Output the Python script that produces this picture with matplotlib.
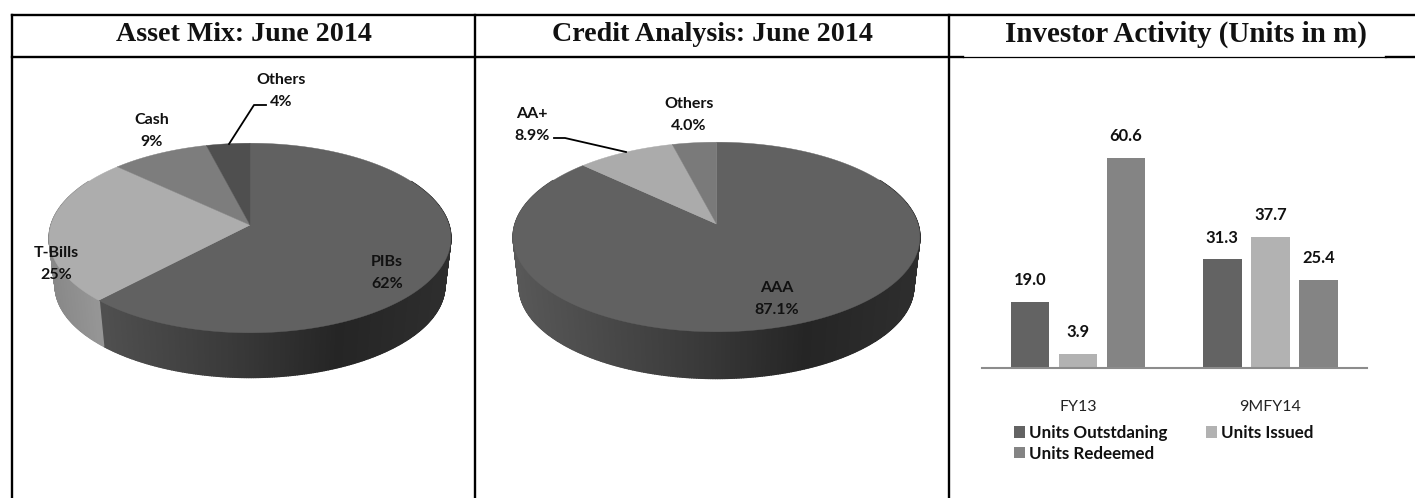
import numpy as np
import matplotlib
matplotlib.use("Agg")
import matplotlib.pyplot as plt
from matplotlib.collections import PolyCollection

W, H = 1415, 498

titles = ["Asset Mix: June 2014", "Credit Analysis: June 2014", "Investor Activity (Units in m)"]

asset_names = ["PIBs", "T-Bills", "Cash", "Others"]
asset_values = [62, 25, 9, 4]
asset_labels = ["62%", "25%", "9%", "4%"]

credit_names = ["AAA", "AA+", "Others"]
credit_values = [87.1, 8.9, 4.0]
credit_labels = ["87.1%", "8.9%", "4.0%"]

periods = ["FY13", "9MFY14"]
units_outstanding = [19.0, 31.3]
units_issued = [3.9, 37.7]
units_redeemed = [60.6, 25.4]

# label centres for the pies, in pixels
asset_pos = [(387, 273), (56, 264), (152, 131), (281, 91)]
credit_pos = [(777, 299), (532, 125), (689, 115)]

plt.rcParams['font.family'] = ['Lato', 'DejaVu Sans']


def px(size):
    return size * 72 / 100


def project(theta, cx, cy, a, b, k):
    # tilted disc seen in perspective, theta runs clockwise from the top
    u, v = np.sin(theta), np.cos(theta)
    w = 1 + k * v
    return cx + a * u / w, cy - b * v / w


def side_shade(x, left, right, dark):
    t = (x - left) / (right - left)
    if dark:
        g = np.interp(t, [0, 0.45, 0.72, 1], [0x58, 0x3a, 0x25, 0x2e])
    else:
        g = np.interp(t, [0, 0.25], [0x88, 0xa5])
    return (g / 255, g / 255, g / 255)


def pie3d(ax, values, colors, side_dark, cx, cy, rx, depth):
    k = 0.137
    a = rx * 0.99
    b = 93.0
    edges = np.cumsum([0] + list(values)) / sum(values) * 2 * np.pi

    # rim first, in thin strips, the top face goes over it
    polys, shades = [], []
    ang = np.linspace(np.radians(60), np.radians(300), 400)
    for t0, t1 in zip(ang[:-1], ang[1:]):
        x0, y0 = project(t0, cx, cy, a, b, k)
        x1, y1 = project(t1, cx, cy, a, b, k)
        x2, y2 = project(t1, cx, cy + depth, a * 0.97, b * 0.97, k)
        x3, y3 = project(t0, cx, cy + depth, a * 0.97, b * 0.97, k)
        polys.append([(x0, y0), (x1, y1), (x2, y2), (x3, y3)])
        i = np.searchsorted(edges, (t0 + t1) / 2) - 1
        shades.append(side_shade((x0 + x1) / 2, cx - rx, cx + rx, side_dark[i]))
    ax.add_collection(PolyCollection(polys, facecolors=shades, edgecolors=shades, linewidths=1.0))

    for i, c in enumerate(colors):
        t = np.linspace(edges[i], edges[i + 1], 200)
        x, y = project(t, cx, cy, a, b, k)
        ax.fill(np.r_[cx, x], np.r_[cy, y], color=c, lw=0.3)


fig = plt.figure(figsize=(W / 100, H / 100), dpi=100, facecolor="white")
bg = fig.add_axes([0, 0, 1, 1])
bg.set_xlim(0, W)
bg.set_ylim(H, 0)
bg.axis("off")

pie3d(bg, asset_values, ["#616161", "#adadad", "#7d7d7d", "#4f4f4f"],
      [True, False, False, False], 250, 225, 201, 48)
pie3d(bg, credit_values, ["#616161", "#ababab", "#7a7a7a"],
      [True, False, False], 716.5, 224, 203.5, 50)

for names, labels, pos in [(asset_names, asset_labels, asset_pos), (credit_names, credit_labels, credit_pos)]:
    for n, l, (x, y) in zip(names, labels, pos):
        bg.text(x, y, n + "\n" + l, ha="center", va="center", fontsize=px(16),
                fontweight="bold", color="#111111", linespacing=1.68)

# leader lines
bg.plot([229, 254, 266], [144, 105, 105], color="black", lw=1.3)
bg.plot([626, 565, 554], [152, 138, 138], color="black", lw=1.3)

# table rules
bg.plot([12, W], [15, 15], color="black", lw=1.7)
bg.plot([12, 963], [57, 57], color="black", lw=1.7)
bg.plot([963, 1386], [57, 57], color="black", lw=0.9)
bg.plot([1386, W], [57, 57], color="black", lw=1.7)
for x in [12, 475, 949]:
    bg.plot([x, x], [15, H], color="black", lw=1.7)

for x, t, size in zip([243.5, 712, 1186], titles, [28, 28, 29]):
    bg.text(x, 34, t, ha="center", va="center", fontsize=px(size), fontweight="bold",
            family="Liberation Serif", color="#111111")

# bars
bx0, bx1, base, scale = 981.7, 1366.7, 367.7, 209.7 / 60.6
ymax = base / scale
ax = fig.add_axes([bx0 / W, (H - base) / H, (bx1 - bx0) / W, base / H])
ax.set_facecolor("none")
pos = np.arange(len(periods))
series = [("Units Outstdaning", units_outstanding, "#636363"),
          ("Units Issued", units_issued, "#b2b2b2"),
          ("Units Redeemed", units_redeemed, "#848484")]
bars = []
for i, (name, vals, c) in enumerate(series):
    b = ax.bar(pos + (i - 1) * 0.25, vals, 0.2, color=c, label=name)
    ax.bar_label(b, fmt="%.1f", padding=10, fontsize=px(16.5), fontweight="bold", color="#111111")
    bars.append(b)
ax.set_xlim(-0.5, 1.5)
ax.set_ylim(0, ymax)
ax.set_yticks([])
ax.set_xticks(pos, periods, fontsize=px(16), color="#222222")
ax.tick_params(axis="x", length=0, pad=23)
for s in ["top", "left", "right"]:
    ax.spines[s].set_visible(False)
ax.spines["bottom"].set_color("#8c8c8c")
ax.spines["bottom"].set_linewidth(1.5)

fig.legend([bars[0], bars[2], bars[1]], [series[0][0], series[2][0], series[1][0]],
           ncol=2, loc="upper left", bbox_to_anchor=(1014 / W, 1 - 425 / H), frameon=False,
           prop={"weight": "bold", "size": px(17)}, labelcolor="#111111",
           handlelength=0.65, handleheight=0.65, handletextpad=0.24, columnspacing=2.25,
           labelspacing=0.27, borderpad=0, borderaxespad=0)

fig.savefig("out.png", dpi=100)
